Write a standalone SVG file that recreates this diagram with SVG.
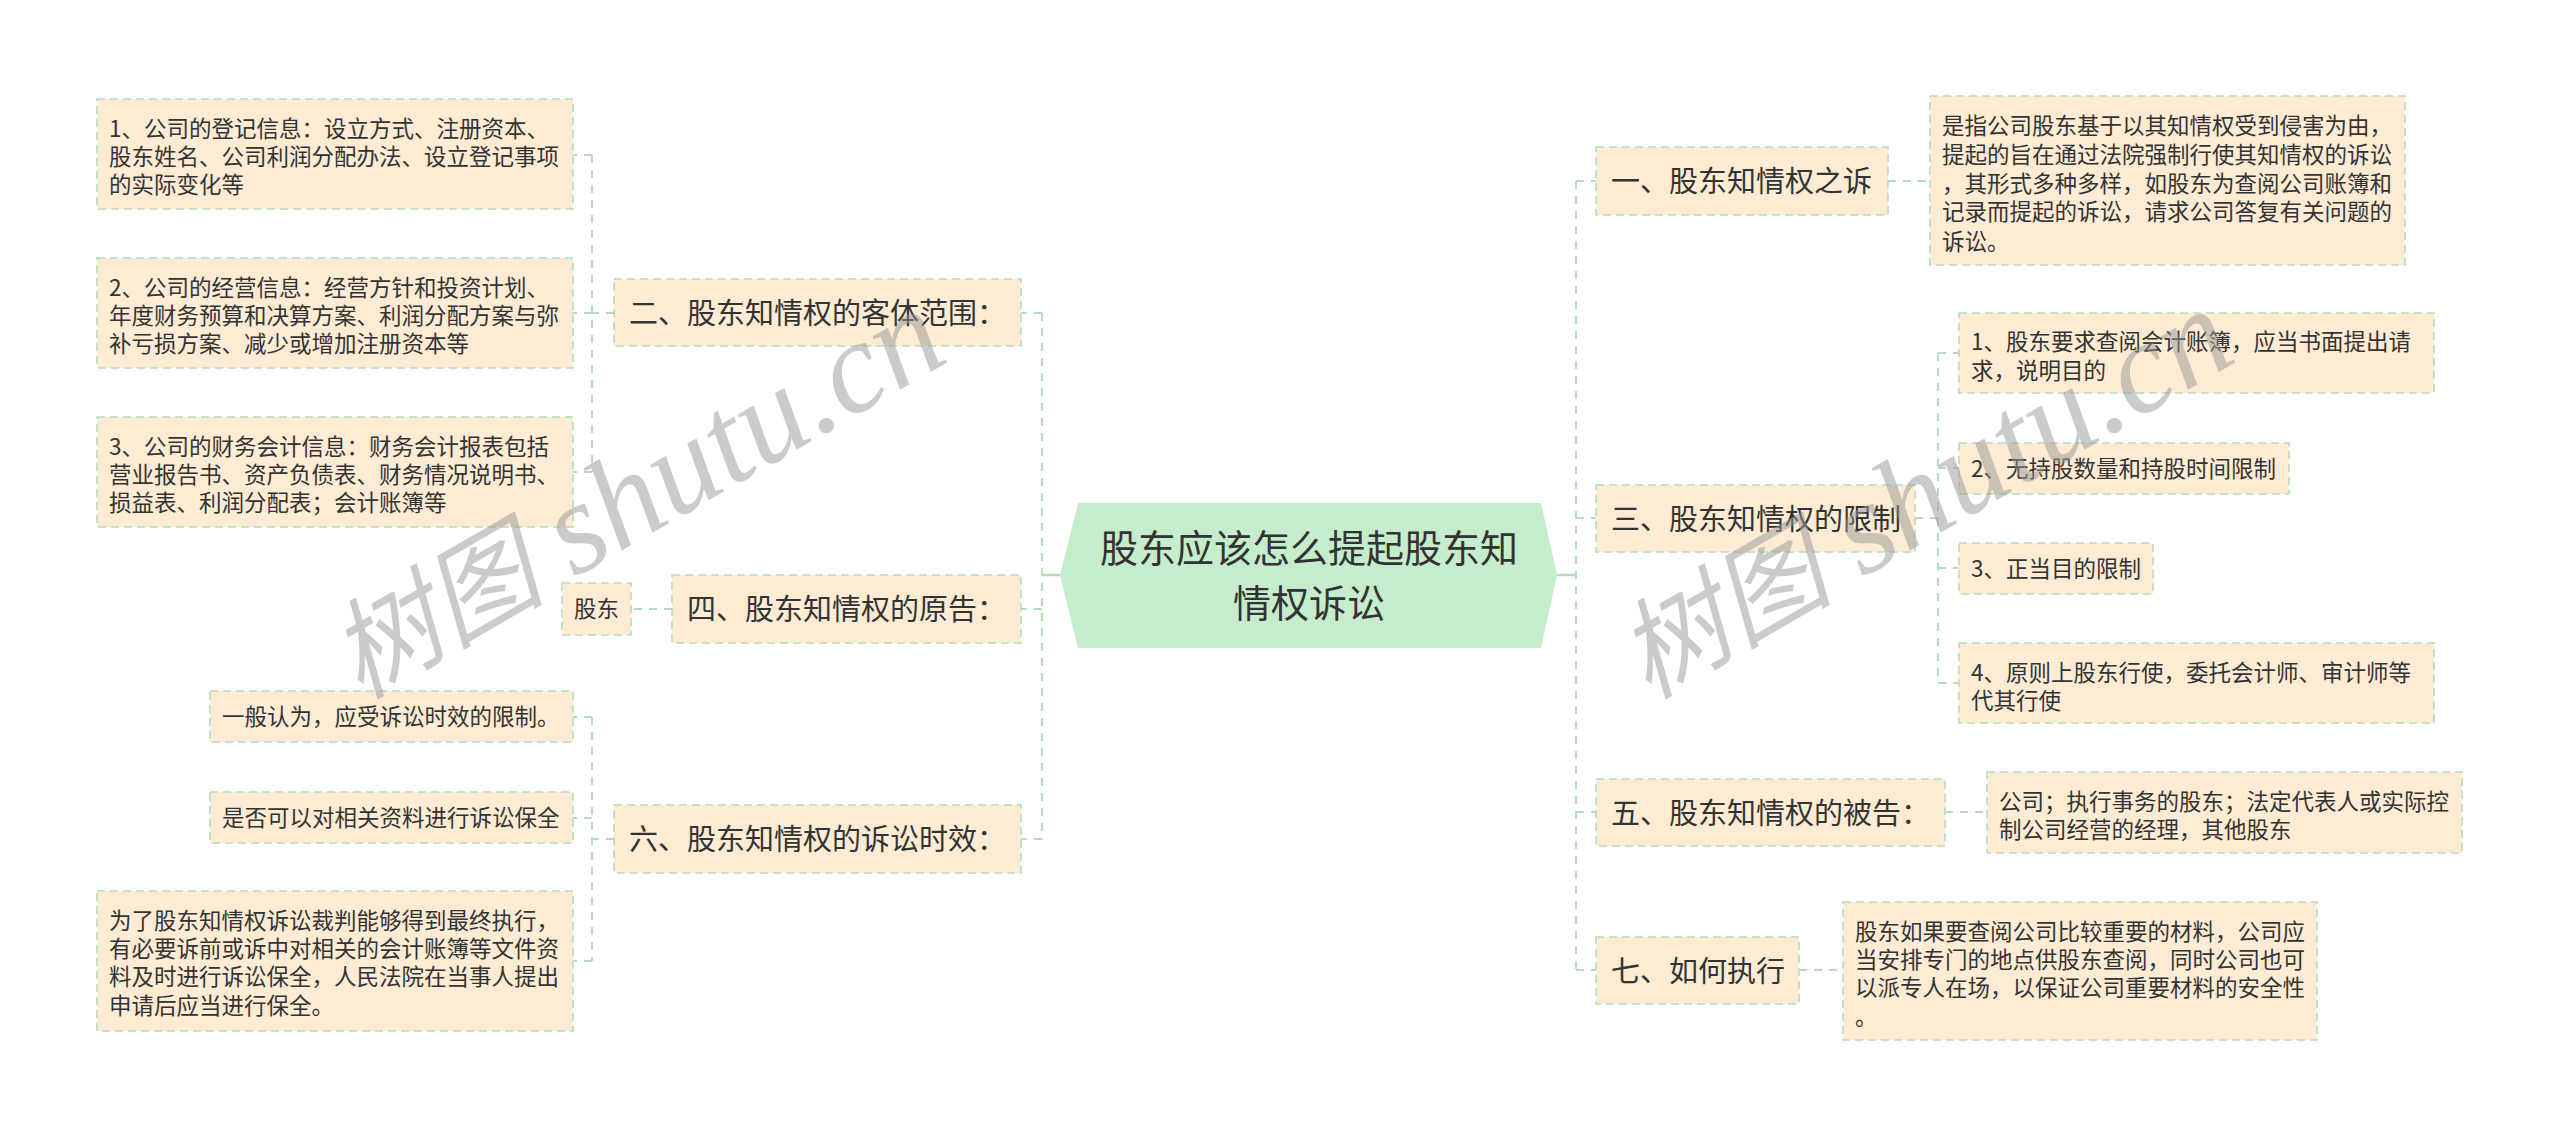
<svg xmlns="http://www.w3.org/2000/svg" width="2560" height="1138" viewBox="0 0 2560 1138">
<style>
.bg{fill:#ffffff}
.n{fill:#fdebd3;stroke:#b5dcbf;stroke-width:1.6;stroke-dasharray:8 5}
.root{fill:#c5eccb}
.t1{font-family:"Noto Sans CJK SC","Liberation Sans",sans-serif;font-size:29px;fill:#333}
.t2{font-family:"Noto Sans CJK SC","Liberation Sans",sans-serif;font-size:22.5px;fill:#333}
.t0{font-family:"Noto Sans CJK SC","Liberation Sans",sans-serif;font-size:38px;fill:#333}
.c{fill:none;stroke:#b5dcbf;stroke-width:2;stroke-dasharray:8 7}
.cs{fill:none;stroke:#b5dcbf;stroke-width:2.5}
.wm1{font-family:"Noto Sans CJK SC",serif;font-style:italic;font-size:108px;fill:#999;opacity:0.5}
.wm2{font-family:"Liberation Serif",serif;font-style:italic;font-size:130px;fill:#999;opacity:0.5}
</style>
<rect class="bg" x="0" y="0" width="2560" height="1138"/>
<g id="connectors">
<path class="cs" d="M1060,575 H1042"/>
<path class="c" d="M1042,313 V839"/>
<path class="c" d="M1042,313 H1021 M1042,609 H1021 M1042,839 H1021"/>
<path class="c" d="M672,609 H631"/>
<path class="c" d="M614,313 H592 M592,155 V472 M592,155 H573 M592,313 H573 M592,472 H573"/>
<path class="c" d="M614,839 H592 M592,717 V961 M592,717 H573 M592,818 H573 M592,961 H573"/>
<path class="cs" d="M1557,575 H1576"/>
<path class="c" d="M1576,181 V971"/>
<path class="c" d="M1576,181 H1596 M1576,518 H1596 M1576,812 H1596 M1576,970 H1596"/>
<path class="c" d="M1888,181 H1930"/>
<path class="c" d="M1915,518 H1938 M1938,353 V683 M1938,353 H1959 M1938,468 H1959 M1938,568 H1959 M1938,683 H1959"/>
<path class="c" d="M1945,812 H1987"/>
<path class="c" d="M1799,970 H1843"/>
</g>
<g id="root">
<polygon class="root" points="1060,575 1078,503 1541,503 1557,575 1541,648 1078,648"/>
<text class="t0" x="1309" y="562" text-anchor="middle">股东应该怎么提起股东知</text>
<text class="t0" x="1309" y="617" text-anchor="middle">情权诉讼</text>
</g>
<g id="n2">
<rect class="n" x="614" y="279" width="407" height="67"/>
<text class="t1" x="629" y="324">二、股东知情权的客体范围：</text>
</g>
<g id="n2a">
<rect class="n" x="97" y="99" width="476" height="110"/>
<text class="t2" x="109"><tspan x="109" y="136.5">1、公司的登记信息：设立方式、注册资本、</tspan><tspan x="109" y="165">股东姓名、公司利润分配办法、设立登记事项</tspan><tspan x="109" y="193">的实际变化等</tspan></text>
</g>
<g id="n2b">
<rect class="n" x="97" y="258" width="476" height="110"/>
<text class="t2" x="109"><tspan x="109" y="295.5">2、公司的经营信息：经营方针和投资计划、</tspan><tspan x="109" y="324">年度财务预算和决算方案、利润分配方案与弥</tspan><tspan x="109" y="352">补亏损方案、减少或增加注册资本等</tspan></text>
</g>
<g id="n2c">
<rect class="n" x="97" y="417" width="476" height="110"/>
<text class="t2" x="109"><tspan x="109" y="454.5">3、公司的财务会计信息：财务会计报表包括</tspan><tspan x="109" y="483">营业报告书、资产负债表、财务情况说明书、</tspan><tspan x="109" y="511">损益表、利润分配表；会计账簿等</tspan></text>
</g>
<g id="n4">
<rect class="n" x="672" y="575" width="349" height="68"/>
<text class="t1" x="687" y="620">四、股东知情权的原告：</text>
</g>
<g id="n4a">
<rect class="n" x="562" y="583" width="69" height="52"/>
<text class="t2" x="574" y="617">股东</text>
</g>
<g id="n6">
<rect class="n" x="614" y="805" width="407" height="68"/>
<text class="t1" x="629" y="850">六、股东知情权的诉讼时效：</text>
</g>
<g id="n6a">
<rect class="n" x="210" y="691" width="363" height="51"/>
<text class="t2" x="222" y="725">一般认为，应受诉讼时效的限制。</text>
</g>
<g id="n6b">
<rect class="n" x="210" y="792" width="363" height="51"/>
<text class="t2" x="222" y="826">是否可以对相关资料进行诉讼保全</text>
</g>
<g id="n6c">
<rect class="n" x="97" y="891" width="476" height="140"/>
<text class="t2" x="109"><tspan x="109" y="928.5">为了股东知情权诉讼裁判能够得到最终执行，</tspan><tspan x="109" y="957">有必要诉前或诉中对相关的会计账簿等文件资</tspan><tspan x="109" y="985">料及时进行诉讼保全，人民法院在当事人提出</tspan><tspan x="109" y="1013.5">申请后应当进行保全。</tspan></text>
</g>
<g id="n1">
<rect class="n" x="1596" y="147" width="292" height="68"/>
<text class="t1" x="1611" y="192">一、股东知情权之诉</text>
</g>
<g id="n1a">
<rect class="n" x="1930" y="96" width="475" height="169"/>
<text class="t2" x="1942"><tspan x="1942" y="133.5">是指公司股东基于以其知情权受到侵害为由，</tspan><tspan x="1942" y="162.5">提起的旨在通过法院强制行使其知情权的诉讼</tspan><tspan x="1942" y="191.5">，其形式多种多样，如股东为查阅公司账簿和</tspan><tspan x="1942" y="220">记录而提起的诉讼，请求公司答复有关问题的</tspan><tspan x="1942" y="250">诉讼。</tspan></text>
</g>
<g id="n3">
<rect class="n" x="1596" y="485" width="319" height="67"/>
<text class="t1" x="1611" y="529.5">三、股东知情权的限制</text>
</g>
<g id="n3a">
<rect class="n" x="1959" y="313" width="475" height="80"/>
<text class="t2" x="1971"><tspan x="1971" y="350">1、股东要求查阅会计账簿，应当书面提出请</tspan><tspan x="1971" y="378.5">求，说明目的</tspan></text>
</g>
<g id="n3b">
<rect class="n" x="1959" y="443" width="330" height="51"/>
<text class="t2" x="1971" y="477">2、无持股数量和持股时间限制</text>
</g>
<g id="n3c">
<rect class="n" x="1959" y="543" width="194" height="51"/>
<text class="t2" x="1971" y="577">3、正当目的限制</text>
</g>
<g id="n3d">
<rect class="n" x="1959" y="643" width="475" height="80"/>
<text class="t2" x="1971"><tspan x="1971" y="680.5">4、原则上股东行使，委托会计师、审计师等</tspan><tspan x="1971" y="709">代其行使</tspan></text>
</g>
<g id="n5">
<rect class="n" x="1596" y="779" width="349" height="67"/>
<text class="t1" x="1611" y="823.5">五、股东知情权的被告：</text>
</g>
<g id="n5a">
<rect class="n" x="1987" y="772" width="475" height="81"/>
<text class="t2" x="1999"><tspan x="1999" y="809.5">公司；执行事务的股东；法定代表人或实际控</tspan><tspan x="1999" y="838">制公司经营的经理，其他股东</tspan></text>
</g>
<g id="n7">
<rect class="n" x="1596" y="937" width="203" height="67"/>
<text class="t1" x="1611" y="981.5">七、如何执行</text>
</g>
<g id="n7a">
<rect class="n" x="1843" y="902" width="474" height="138"/>
<text class="t2" x="1855"><tspan x="1855" y="939.5">股东如果要查阅公司比较重要的材料，公司应</tspan><tspan x="1855" y="968">当安排专门的地点供股东查阅，同时公司也可</tspan><tspan x="1855" y="996">以派专人在场，以保证公司重要材料的安全性</tspan><tspan x="1855" y="1024.5">。</tspan></text>
</g>
<g id="watermark">
<text class="wm1" transform="translate(360,700) rotate(-30)">树图</text>
<text class="wm2" transform="translate(574,578) rotate(-30)">shutu.cn</text>
<text class="wm1" transform="translate(1648,700) rotate(-30)">树图</text>
<text class="wm2" transform="translate(1862,578) rotate(-30)">shutu.cn</text>
</g>
</svg>
